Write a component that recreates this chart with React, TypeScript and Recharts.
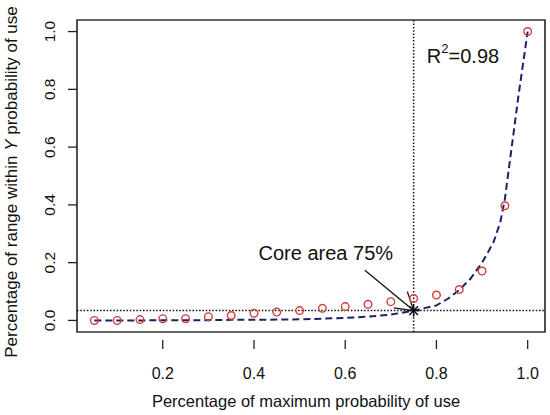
import {
  ComposedChart,
  Line,
  Scatter,
  XAxis,
  YAxis,
  ReferenceLine,
  ReferenceArea,
  ReferenceDot,
} from "recharts";

// observed points (red circles)
const pointX = [0.05, 0.1, 0.15, 0.2, 0.25, 0.3, 0.35, 0.4, 0.45, 0.5, 0.55, 0.6, 0.65, 0.7, 0.75, 0.8, 0.85, 0.9, 0.95, 1.0];
const pointY = [0.0, 0.0, 0.003, 0.006, 0.006, 0.013, 0.017, 0.025, 0.029, 0.034, 0.042, 0.048, 0.056, 0.065, 0.076, 0.088, 0.107, 0.171, 0.397, 1.0];

// fitted curve (dashed)
const curveX = [0.05, 0.1, 0.15, 0.2, 0.25, 0.3, 0.35, 0.4, 0.45, 0.5, 0.55, 0.6, 0.65, 0.7, 0.75, 0.8, 0.825, 0.85, 0.875, 0.9, 0.925, 0.94, 0.95, 0.96, 0.97, 0.98, 0.99, 1.0];
const curveY = [0, 0, 0, 0.001, 0.001, 0.001, 0.002, 0.002, 0.003, 0.004, 0.006, 0.009, 0.013, 0.02, 0.034, 0.052, 0.075, 0.105, 0.145, 0.2, 0.27, 0.34, 0.42, 0.54, 0.66, 0.78, 0.89, 1.0];

const coreX = 0.75;
const coreY = 0.034;
const xTicks = [0.2, 0.4, 0.6, 0.8, 1.0];
const yTicks = [0.0, 0.2, 0.4, 0.6, 0.8, 1.0];

const points = pointX.map((x, i) => ({ x, y: pointY[i] }));
const curve = curveX.map((x, i) => ({ x, y: curveY[i] }));
const core = [{ x: coreX, y: coreY }];

const FONT = "'Liberation Sans', Arial, sans-serif";

// eslint-disable-next-line @typescript-eslint/no-explicit-any
const XTick = (props: any) => {
  const { x, y, payload } = props;
  return (
    <g>
      <line x1={x} y1={y} x2={x} y2={y + 9} stroke="#222" strokeWidth={1.3} />
      <text x={x} y={y + 39} textAnchor="middle" fontSize={16} fontFamily={FONT} fill="#111">
        {Number(payload.value).toFixed(1)}
      </text>
    </g>
  );
};

// eslint-disable-next-line @typescript-eslint/no-explicit-any
const YTick = (props: any) => {
  const { y, payload } = props;
  return (
    <g>
      <line x1={68} y1={y} x2={77} y2={y} stroke="#222" strokeWidth={1.3} />
      <text
        x={55.5}
        y={y}
        transform={`rotate(-90, 55.5, ${y})`}
        textAnchor="middle"
        fontSize={15.5}
        fontFamily={FONT}
        fill="#111"
      >
        {Number(payload.value).toFixed(1)}
      </text>
    </g>
  );
};

// eslint-disable-next-line @typescript-eslint/no-explicit-any
const Ring = (props: any) => (
  <circle cx={props.cx} cy={props.cy} r={3.8} fill="none" stroke="#d63c3c" strokeWidth={1.4} />
);

// eslint-disable-next-line @typescript-eslint/no-explicit-any
const Star = (props: any) => {
  const { cx, cy } = props;
  const s = 6;
  const d = 4.3;
  return (
    <g stroke="#111" strokeWidth={1.5}>
      <line x1={cx - s} y1={cy} x2={cx + s} y2={cy} />
      <line x1={cx} y1={cy - s} x2={cx} y2={cy + s} />
      <line x1={cx - d} y1={cy - d} x2={cx + d} y2={cy + d} />
      <line x1={cx - d} y1={cy + d} x2={cx + d} y2={cy - d} />
    </g>
  );
};

// eslint-disable-next-line @typescript-eslint/no-explicit-any
const Arrow = (props: any) => {
  const { x1, y1, x2, y2 } = props;
  const ang = Math.atan2(y1 - y2, x1 - x2);
  const len = 20;
  const a = (32 * Math.PI) / 180;
  return (
    <g stroke="#111" strokeWidth={1.3} fill="none">
      <line x1={x1} y1={y1} x2={x2} y2={y2} />
      <line x1={x2} y1={y2} x2={x2 + len * Math.cos(ang + a)} y2={y2 + len * Math.sin(ang + a)} />
      <line x1={x2} y1={y2} x2={x2 + len * Math.cos(ang - a)} y2={y2 + len * Math.sin(ang - a)} />
    </g>
  );
};

export default function App() {
  return (
    <div style={{ position: "absolute", left: 0, top: 0, width: 550, height: 415, background: "#fff" }}>
      <ComposedChart width={550} height={415} margin={{ top: 20, right: 5, bottom: 0, left: 0 }}>
        <XAxis
          type="number"
          dataKey="x"
          domain={[0.012, 1.038]}
          ticks={xTicks}
          axisLine={false}
          tickLine={false}
          tick={<XTick />}
          height={83}
          label={{
            // eslint-disable-next-line @typescript-eslint/no-explicit-any
            content: (p: any) => (
              <text
                x={p.viewBox.x + p.viewBox.width / 2 - 5}
                y={407}
                textAnchor="middle"
                fontSize={16.5}
                fontFamily={FONT}
                fill="#111"
              >
                Percentage of maximum probability of use
              </text>
            ),
          }}
        />
        <YAxis
          type="number"
          dataKey="y"
          domain={[-0.04, 1.04]}
          ticks={yTicks}
          axisLine={false}
          tickLine={false}
          tick={<YTick />}
          width={77}
          label={{
            // eslint-disable-next-line @typescript-eslint/no-explicit-any
            content: (p: any) => {
              const cy = p.viewBox.y + p.viewBox.height / 2 + 6;
              return (
                <text
                  x={17}
                  y={cy}
                  transform={`rotate(-90, 17, ${cy})`}
                  textAnchor="middle"
                  fontSize={17}
                  fontFamily={FONT}
                  fill="#111"
                >
                  Percentage of range within <tspan fontStyle="italic">Y</tspan> probability of use
                </text>
              );
            },
          }}
        />
        <ReferenceLine x={coreX} stroke="#111" strokeWidth={1.5} strokeDasharray="1.5 1.8" />
        <ReferenceLine y={coreY} stroke="#111" strokeWidth={1.5} strokeDasharray="1.5 1.8" />
        <Line
          data={curve}
          dataKey="y"
          type="linear"
          stroke="#1c2068"
          strokeWidth={2}
          strokeDasharray="7 4"
          dot={false}
          activeDot={false}
          isAnimationActive={false}
        />
        <Scatter data={points} dataKey="y" shape={<Ring />} isAnimationActive={false} />
        <Scatter data={core} dataKey="y" shape={<Star />} isAnimationActive={false} />
        <ReferenceLine
          segment={[
            { x: 0.643, y: 0.174 },
            { x: coreX, y: coreY },
          ]}
          shape={<Arrow />}
        />
        <ReferenceDot
          x={0.41}
          y={0.21}
          shape={(p: any) => (
            <text x={p.cx} y={p.cy} fontSize={20} fontFamily={FONT} fill="#111">
              Core area 75%
            </text>
          )}
        />
        <ReferenceDot
          x={0.779}
          y={0.89}
          shape={(p: any) => (
            <text x={p.cx} y={p.cy} fontSize={20} fontFamily={FONT} fill="#111">
              R
              <tspan fontSize={13} dy={-10}>2</tspan>
              <tspan dy={10}>=0.98</tspan>
            </text>
          )}
        />
        <ReferenceArea
          x1={0.012}
          x2={1.038}
          y1={-0.04}
          y2={1.04}
          fill="none"
          stroke="#333"
          strokeWidth={1.7}
          ifOverflow="visible"
        />
      </ComposedChart>
    </div>
  );
}
